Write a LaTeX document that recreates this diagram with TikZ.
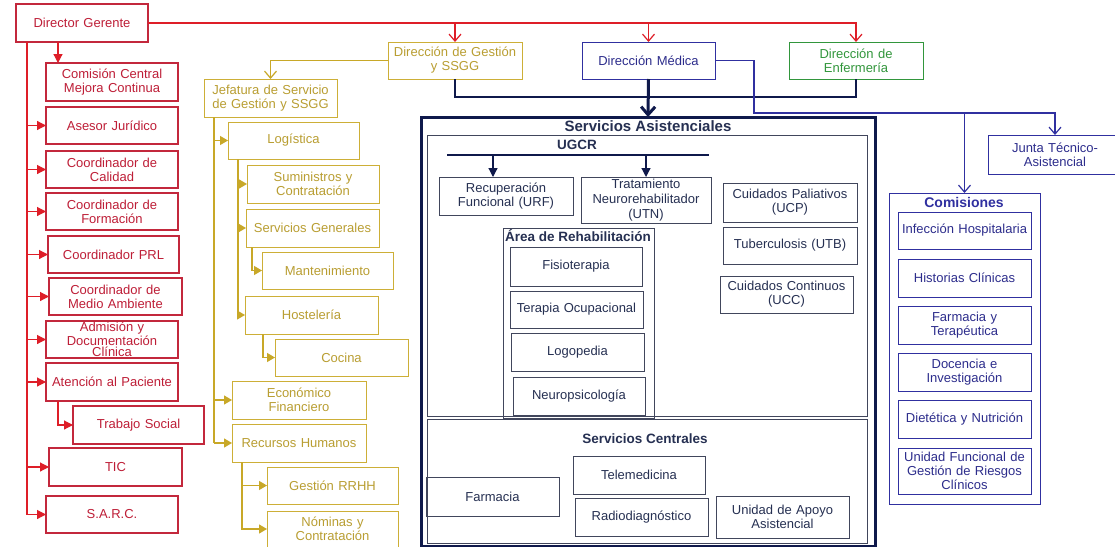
\documentclass[tikz,border=0pt]{standalone}
\usepackage{fontspec}
\setmainfont{Liberation Sans}
\usetikzlibrary{arrows.meta}
\definecolor{rline}{RGB}{222,30,40}
\definecolor{rbord}{RGB}{195,40,60}
\definecolor{rtext}{RGB}{190,30,55}
\definecolor{gline}{RGB}{200,168,40}
\definecolor{gbord}{RGB}{205,175,55}
\definecolor{gtext}{RGB}{185,158,50}
\definecolor{navyc}{RGB}{15,25,75}
\definecolor{bluec}{RGB}{48,48,160}
\definecolor{bluet}{RGB}{45,45,140}
\definecolor{ibord}{RGB}{65,70,92}
\definecolor{itext}{RGB}{38,48,82}
\definecolor{greenc}{RGB}{50,150,60}
\newcommand\bx[7]{%
  \pgfmathsetmacro\bxw{#5-#3}%
  \pgfmathsetmacro\bxh{#6-#4}%
  \pgfmathsetmacro\bxt{#5-#3-4}%
  \node[#1,minimum width=\bxw pt,minimum height=\bxh pt,text width=\bxt pt] (#2) at ({(#3+#5)/2},{(#4+#6)/2}) {#7};}
\tikzset{
  base/.style={draw, inner sep=0pt, outer sep=0pt, align=center, font=\fontsize{13}{14}\selectfont, line width=1pt},
  rbox/.style={base, draw=rbord, text=rtext, line width=1.2pt},
  gbox/.style={base, draw=gbord, text=gtext},
  ibox/.style={base, draw=ibord, text=itext},
  bluebox/.style={base, draw=bluec, text=bluet},
  grbox/.style={base, draw=greenc, text=greenc},
  ttl/.style={inner sep=0pt, font=\fontsize{13.5}{15}\selectfont\bfseries, text=itext},
  rl/.style={draw=rline, line width=1.2pt},
  rarr/.style={rl, -{Triangle[length=9pt,width=9pt]}},
  ropen/.style={rl, -{Straight Barb[length=7pt,width=12pt]}},
  gl/.style={draw=gline, line width=1.2pt},
  garr/.style={gl, -{Triangle[length=8pt,width=9pt]}},
  gopen/.style={gl, -{Straight Barb[length=7pt,width=12pt]}},
  nl/.style={draw=navyc, line width=2.5pt},
  nthin/.style={draw=navyc, line width=1.2pt},
  narr/.style={nthin, -{Triangle[length=9pt,width=9pt]}},
  bl/.style={draw=bluec, line width=1.2pt},
  bopen/.style={bl, -{Straight Barb[length=7pt,width=12pt]}},
}
\begin{document}
\begin{tikzpicture}[x=1pt,y=-1pt]
\fill[white] (0,0) rectangle (1115,546);
\useasboundingbox (0,0) rectangle (1115,546);

% ---------- red column ----------
\bx{rbox}{dg}{16}{4}{148}{42}{Director Gerente}
\bx{rbox}{ccm}{46}{63}{178}{101}{Comisión Central\\Mejora Continua}
\bx{rbox}{aj}{46}{107}{178}{144}{Asesor Jurídico}
\bx{rbox}{cc}{46}{151}{178}{188}{Coordinador de\\Calidad}
\bx{rbox}{cf}{46}{193}{178}{230}{Coordinador de\\Formación}
\bx{rbox}{cprl}{48}{236}{179}{273}{Coordinador PRL}
\bx{rbox}{cma}{49}{278}{182}{315}{Coordinador de\\Medio Ambiente}
\bx{rbox,font=\fontsize{13}{11.5}\selectfont}{adm}{46}{321}{178}{358}{Admisión y\\Documentación\\Clínica}
\bx{rbox}{ap}{46}{363}{178}{401}{Atención al Paciente}
\bx{rbox}{ts}{73}{406}{204}{444}{Trabajo Social}
\bx{rbox}{tic}{49}{448}{182}{486}{TIC}
\bx{rbox}{sarc}{46}{496}{178}{533}{S.A.R.C.}

\coordinate (rv) at ([xshift=11pt]dg.south west);
\draw[rl] (rv) -- (rv |- sarc.west);
\foreach \n in {aj,cc,cf,cprl,cma,adm,ap,tic,sarc}
  \draw[rarr] (rv |- \n.west) -- (\n.west);
\draw[rarr] ([xshift=12pt]ccm.north west |- dg.south) -- ([xshift=12pt]ccm.north west);
\draw[rarr] ([xshift=12pt]ap.south west) |- (ts.west);

% ---------- top directions ----------
\bx{gbox}{dgs}{388}{42}{522}{79}{Dirección de Gestión\\y SSGG}
\bx{bluebox}{dm}{582}{42}{715}{79}{Dirección Médica}
\bx{grbox}{enf}{789}{42}{923}{79}{Dirección de\\Enfermería}

\draw[ropen] (dg.east) -| (enf.north);
\draw[ropen] (dg.east -| dgs.north) -- (dgs.north);
\draw[ropen] (dg.east -| dm.north) -- (dm.north);

% ---------- gold column ----------
\bx{gbox}{jef}{204}{79}{337}{117}{Jefatura de Servicio\\de Gestión y SSGG}
\bx{gbox}{log}{228}{122}{359}{159}{Logística}
\bx{gbox}{sum}{247}{165}{379}{203}{Suministros y\\Contratación}
\bx{gbox}{sg}{246}{209}{379}{247}{Servicios Generales}
\bx{gbox}{mant}{262}{252}{393}{289}{Mantenimiento}
\bx{gbox}{host}{245}{296}{378}{334}{Hostelería}
\bx{gbox}{coc}{275}{339}{408}{376}{Cocina}
\bx{gbox}{eco}{232}{381}{366}{419}{Económico\\Financiero}
\bx{gbox}{rh}{232}{424}{366}{462}{Recursos Humanos}
\bx{gbox}{grh}{267}{467}{398}{504}{Gestión RRHH}
\bx{gbox}{nom}{267}{511}{398}{547}{Nóminas y\\Contratación}

\draw[gopen] (dgs.west) -| (jef.north);
\coordinate (gv) at ([xshift=10pt]jef.south west);
\draw[gl] (gv) -- (gv |- rh.west);
\foreach \n in {log,eco,rh}
  \draw[garr] (gv |- \n.west) -- (\n.west);
\coordinate (gv2) at ([xshift=10pt]log.south west);
\draw[gl] (gv2) -- (gv2 |- host.west);
\foreach \n in {sum,sg,host}
  \draw[garr] (gv2 |- \n.west) -- (\n.west);
\draw[garr] ([xshift=6pt]sg.south west) |- (mant.west);
\draw[garr] ([xshift=18pt]host.south west) |- (coc.west);
\draw[garr] ([xshift=10pt]rh.south west) |- (grh.west);
\draw[garr] ([xshift=10pt]rh.south west) |- (nom.west);

% ---------- Servicios Asistenciales ----------
\bx{base,draw=navyc,line width=3pt}{sa}{421}{117}{875}{546}{}
\draw[nl] (dgs.south) -- ++(0,18) -| (enf.south);
\draw[nl, line width=3pt, -{Straight Barb[length=8pt,width=14pt]}] (dm.south) -- (sa.north);
\node[ttl, font=\fontsize{15}{17}\selectfont\bfseries] (sat) at (648,126) {Servicios Asistenciales};

\bx{ibox}{ugcr}{427}{135}{867}{416}{}
\node[ttl] (ugcrt) at (577,145) {UGCR};
\coordinate (ul) at ([xshift=20pt,yshift=-20pt]ugcr.north west);
\coordinate (ur) at ([xshift=-158pt,yshift=-20pt]ugcr.north east);
\draw[nthin] (ul) -- (ur);

\bx{ibox}{urf}{439}{177}{573}{215}{Recuperación\\Funcional (URF)}
\bx{ibox,font=\fontsize{13}{15}\selectfont}{utn}{581}{177}{711}{223}{Tratamiento\\Neurorehabilitador\\(UTN)}
\draw[narr] ([xshift=54pt]urf.north west |- ul) -- ([xshift=54pt]urf.north west);
\draw[narr] (utn.north |- ul) -- (utn.north);

\bx{ibox}{ucp}{723}{183}{857}{222}{Cuidados Paliativos\\(UCP)}
\bx{ibox}{utb}{723}{227}{857}{264}{Tuberculosis (UTB)}
\bx{ibox}{ucc}{720}{276}{853}{313}{Cuidados Continuos\\(UCC)}

\bx{ibox}{rehab}{503}{228}{654}{418}{}
\node[ttl] (rehabt) at (578,236) {Área de Rehabilitación};
\bx{ibox}{fis}{510}{247}{642}{286}{Fisioterapia}
\bx{ibox}{tocc}{510}{291}{643}{328}{Terapia Ocupacional}
\bx{ibox}{logo}{511}{333}{644}{371}{Logopedia}
\bx{ibox}{neuro}{513}{377}{645}{415}{Neuropsicología}

\bx{ibox}{sc}{427}{419}{867}{543}{}
\node[ttl] (sct) at (645,439) {Servicios Centrales};
\bx{ibox}{farm}{426}{477}{559}{516}{Farmacia}
\bx{ibox}{tele}{573}{456}{705}{494}{Telemedicina}
\bx{ibox}{radio}{575}{498}{708}{536}{Radiodiagnóstico}
\bx{ibox}{uaa}{716}{496}{849}{538}{Unidad de Apoyo\\Asistencial}

% ---------- Comisiones / Junta ----------
\bx{bluebox}{junta}{988}{135}{1122}{174}{Junta Técnico-\\Asistencial}
\bx{bluebox}{com}{889}{193}{1040}{504}{}
\node[ttl, text=bluec, font=\fontsize{14}{16}\selectfont\bfseries] (comt) at (964,202) {Comisiones};
\bx{bluebox}{ih}{898}{212}{1031}{249}{Infección Hospitalaria}
\bx{bluebox}{hc}{898}{259}{1031}{297}{Historias Clínicas}
\bx{bluebox}{ft}{898}{306}{1031}{344}{Farmacia y\\Terapéutica}
\bx{bluebox}{di}{898}{353}{1031}{391}{Docencia e\\Investigación}
\bx{bluebox}{dn}{898}{400}{1031}{438}{Dietética y Nutrición}
\bx{bluebox,font=\fontsize{13}{14}\selectfont}{uf}{898}{448}{1031}{494}{Unidad Funcional de\\Gestión de Riesgos\\Clínicos}

\coordinate (bh) at ([yshift=22pt]junta.north);
\draw[bopen] (dm.east) -- ++(39,0) |- (bh) -- (junta.north);
\draw[bopen] (com.north |- bh) -- (com.north);
\end{tikzpicture}
\end{document}
